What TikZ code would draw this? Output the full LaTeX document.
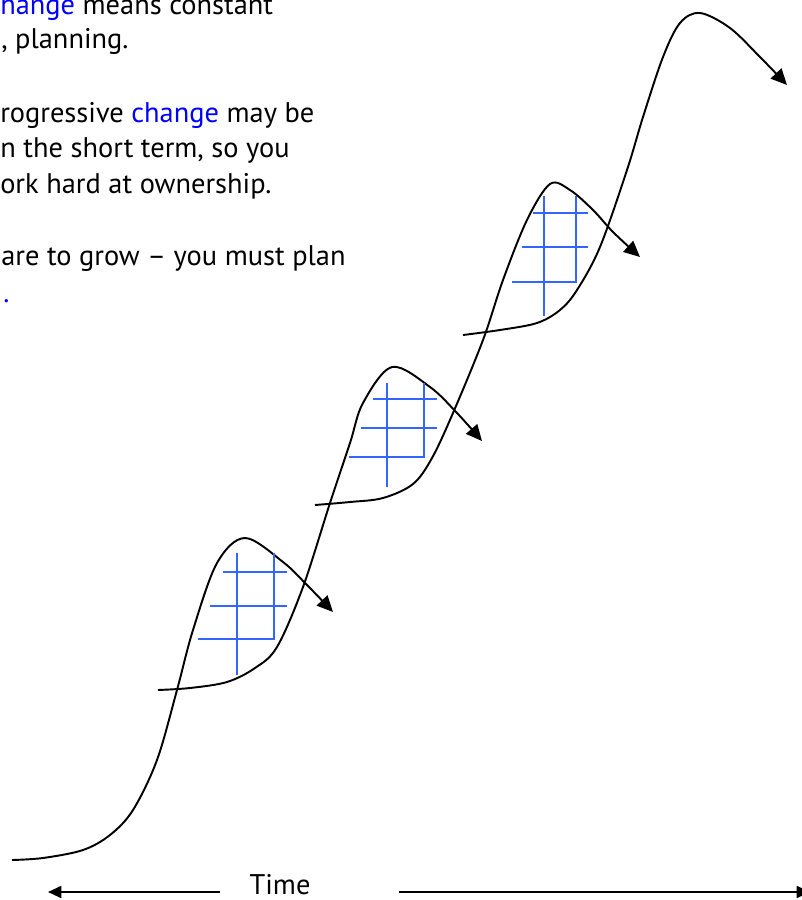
\documentclass[tikz,border=0pt]{standalone}
\usepackage{fontspec}
\setmainfont{PT Sans}
\usetikzlibrary{arrows.meta}
\definecolor{gridblue}{RGB}{51,102,255}
\definecolor{wordblue}{RGB}{0,0,255}
\newcommand{\bw}[1]{\textcolor{wordblue}{#1}}
\tikzset{
  txt/.style={inner sep=0pt, font=\fontsize{21.3}{25}\selectfont, text=black},
  scurve/.style={line width=1.45pt, black, -{Triangle[length=12pt,width=11pt]}},
  gridln/.style={line width=1.6pt, gridblue},
  axisarrow/.style={line width=1.4pt, black, -{Triangle[length=10pt,width=9pt]}}
}
\begin{document}
\begin{tikzpicture}[x=0.75pt,y=-0.75pt]
\useasboundingbox (0,0) rectangle (802,900);

% text block (starting at the left edge)
\node[txt, anchor=base west] (t1) at (0,14) {\bw{hange} means constant};
\node[txt, anchor=base west] (t2) at (1,48) {, planning.};
\node[txt, anchor=base west] (t3) at (0,122) {rogressive \bw{change} may be};
\node[txt, anchor=base west] (t4) at (0,157) {n the short term, so you};
\node[txt, anchor=base west] (t5) at (0,193) {ork hard at ownership.};
\node[txt, anchor=base west] (t6) at (1,265) {are to grow -- you must plan};
\node[txt, anchor=base west] (t7) at (3,302) {\bw{.}};

% S-curve 1
\draw[scurve] plot[smooth, tension=0.55] coordinates {
  (12,860) (43,858) (83,850) (110,835) (133,810) (157,760) (177,690)
  (193,630) (217,563) (245,538) (283,562) (307,585) (333,612)};
% S-curve 2
\draw[scurve] plot[smooth, tension=0.55] coordinates {
  (158,690) (190,688) (227,682) (255,668) (277,647) (303,587) (330,503)
  (350,443) (363,403) (392,367) (430,387) (457,413) (482,441)};
% S-curve 3
\draw[scurve] plot[smooth, tension=0.55] coordinates {
  (315,505) (350,502) (383,498) (413,484) (432,458) (453,413) (483,340)
  (503,280) (527,220) (550,184) (570,190) (593,210) (613,232) (640,257)};
% S-curve 4
\draw[scurve] plot[smooth, tension=0.55] coordinates {
  (463,335) (500,330) (537,323) (560,310) (577,290) (600,247) (627,170)
  (643,117) (663,57) (680,23) (700,13) (730,28) (760,57) (787,85)};

% grid 1
\draw[gridln] (236.7,553) -- (236.7,675);
\draw[gridln] (222.7,571.7) -- (286.7,571.7);
\draw[gridln] (210,606) -- (286.7,606);
\draw[gridln] (274,553) -- (274,639.3) -- (198.3,639.3);
% grid 2
\draw[gridln] (386.7,383.3) -- (386.7,486.7);
\draw[gridln] (373.3,399) -- (436.7,399);
\draw[gridln] (361,428.3) -- (436.7,428.3);
\draw[gridln] (424.3,383.3) -- (424.3,457.3) -- (349,457.3);
% grid 3
\draw[gridln] (544,196) -- (544,315.7);
\draw[gridln] (532.7,213.3) -- (587.7,213.3);
\draw[gridln] (522.3,247.3) -- (587.7,247.3);
\draw[gridln] (576,196) -- (576,281.7) -- (511.7,281.7);

% time axis
\node[txt, anchor=base] (time) at (280,894) {Time};
\coordinate (lend) at (220,892);
\coordinate (ltip) at (48,892);
\coordinate (rstart) at (399,892);
\coordinate (rtip) at (810,892);
\draw[axisarrow] (lend) -- (ltip);
\draw[axisarrow] (rstart) -- (rtip);
\end{tikzpicture}
\end{document}
